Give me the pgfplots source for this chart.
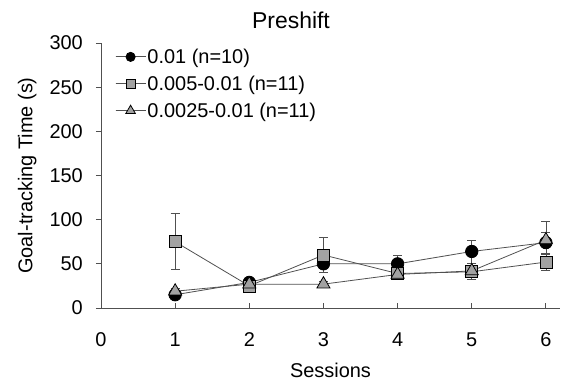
\documentclass[border=0pt]{standalone}
\usepackage{fontspec}
\setmainfont{Liberation Sans}
\usepackage{pgfplots}
\pgfplotsset{compat=1.18}
\usepackage{pgfplotstable}
\definecolor{mgray}{HTML}{A2A2A2}
\definecolor{lgray}{HTML}{505050}
\pgfplotstableread{
x y ep em
1 15 3 3
2 29 3 3
3 50 10 10
4 50 9 9
5 64 13 13
6 74 12 12
}\circtab
\pgfplotstableread{
x y ep em
1 75 32 31
2 25 3 3
3 60 20 20
4 39 4 4
5 41 9 9
6 52 9 9
}\sqtab
\pgfplotstableread{
x y ep em
1 19 3 3
2 27 3 3
3 27 3 3
4 38 4 4
5 42 5 5
6 77 21 21
}\tritab
\begin{document}
\begin{tikzpicture}
\useasboundingbox (-101bp,-76bp) rectangle (464bp,308bp);
\begin{axis}[
  scale only axis,
  width=459bp, height=265bp,
  xmin=0, xmax=6.19, ymin=0, ymax=300,
  axis lines=left,
  axis line style={-, draw=lgray, line width=0.9pt},
  xtick={0,1,2,3,4,5,6},
  ytick={0,50,100,150,200,250,300},
  tick align=outside,
  major tick length=5bp,
  tick style={draw=lgray, line width=0.9pt},
  xtick style={yshift=5bp},
  /pgf/number format/assume math mode=true,
  ticklabel style={font=\fontsize{20}{24}\selectfont},
  xticklabel style={anchor=base, inner sep=0pt, yshift=-33bp},
  yticklabel style={anchor=east, inner sep=0pt, xshift=-13bp},
  xlabel={Sessions},
  ylabel={Goal-tracking Time (s)},
  every axis x label/.style={at={(axis description cs:0.5,-0.264)}, anchor=base, font=\fontsize{20}{24}\selectfont},
  every axis y label/.style={at={(axis description cs:-0.161,0.5)}, rotate=90, anchor=center, font=\fontsize{20}{24}\selectfont},
  title={Preshift},
  every axis title/.style={at={(axis description cs:0.414,1.0566)}, anchor=base, font=\fontsize{23}{27}\selectfont},
  legend style={draw=none, fill=none, at={(axis description cs:0.0305,0.986)}, anchor=north west,
    font=\fontsize{20}{24}\selectfont, inner xsep=0pt, inner ysep=0pt, row sep=7bp,
    nodes={inner xsep=1.5bp, inner ysep=2bp}},
  legend cell align=left,
  legend image code/.code={
    \draw[#1] (0bp,0bp) -- (30bp,0bp);
    \draw[#1, every mark/.append style={scale=0.74}, mark repeat=2, mark phase=2] plot coordinates {(0bp,0bp) (15bp,0bp) (30bp,0bp)};
  },
  every axis plot/.append style={line width=0.8pt, draw=lgray},
  error bars/error bar style={draw=lgray, line width=0.8pt},
  error bars/error mark options={rotate=90, mark size=4.5bp, draw=lgray, line width=0.8pt},
]
\addplot[lgray, mark=*, mark size=6.2bp, mark options={fill=black, draw=black},
  error bars/.cd, y dir=both, y explicit]
  table[x=x, y=y, y error plus=ep, y error minus=em] {\circtab};
\addlegendentry{0.01 (n=10)}
\addplot[lgray, mark=square*, mark size=6bp, mark options={fill=mgray, draw=black},
  error bars/.cd, y dir=both, y explicit]
  table[x=x, y=y, y error plus=ep, y error minus=em] {\sqtab};
\addlegendentry{0.005-0.01 (n=11)}
\addplot[lgray, mark=triangle*, mark size=7.5bp, mark options={fill=mgray, draw=black},
  error bars/.cd, y dir=both, y explicit]
  table[x=x, y=y, y error plus=ep, y error minus=em] {\tritab};
\addlegendentry{0.0025-0.01 (n=11)}
\end{axis}
\end{tikzpicture}
\end{document}
